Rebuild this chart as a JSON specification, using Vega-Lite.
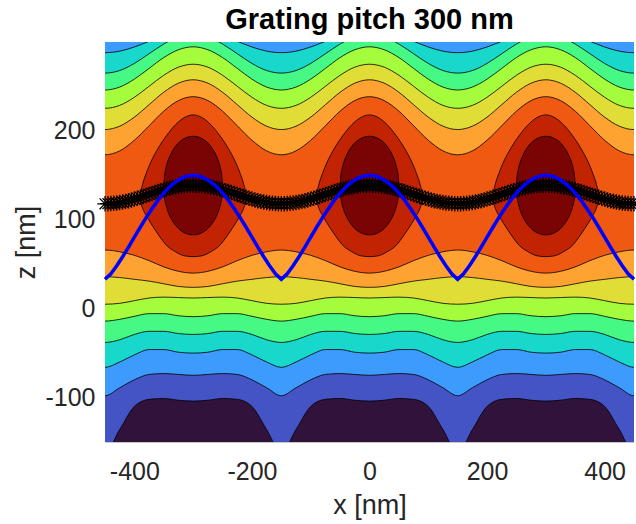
{
"$schema":"https://vega.github.io/schema/vega-lite/v6.json",
"width":529,"height":400,
"autosize":{"type":"none"},
"padding":{"left":105,"top":42,"right":2,"bottom":82},
"background":"white",
"config":{"view":{"fill":"#30123b","stroke":null},"axis":{"grid":false}},
"title":{"text":"Grating pitch 300 nm","fontSize":29,"fontWeight":"bold","font":"Liberation Sans","color":"black","anchor":"middle","offset":7},
"datasets":{
"bands":[
{"k":1,"g":1,"x":-475,"a":-136,"b":320},{"k":1,"g":1,"x":-450,"a":-162,"b":320},{"k":1,"g":1,"x":-425,"a":-136,"b":320},{"k":1,"g":1,"x":-400,"a":-110,"b":320},{"k":1,"g":1,"x":-375,"a":-102,"b":320},{"k":1,"g":1,"x":-350,"a":-101,"b":320},{"k":1,"g":1,"x":-325,"a":-103,"b":320},{"k":1,"g":1,"x":-300,"a":-104,"b":320},{"k":1,"g":1,"x":-275,"a":-103,"b":320},{"k":1,"g":1,"x":-250,"a":-101,"b":320},{"k":1,"g":1,"x":-225,"a":-102,"b":320},{"k":1,"g":1,"x":-200,"a":-110,"b":320},{"k":1,"g":1,"x":-175,"a":-136,"b":320},{"k":1,"g":1,"x":-150,"a":-162,"b":320},{"k":1,"g":1,"x":-125,"a":-136,"b":320},{"k":1,"g":1,"x":-100,"a":-110,"b":320},{"k":1,"g":1,"x":-75,"a":-102,"b":320},{"k":1,"g":1,"x":-50,"a":-101,"b":320},{"k":1,"g":1,"x":-25,"a":-103,"b":320},{"k":1,"g":1,"x":0,"a":-104,"b":320},{"k":1,"g":1,"x":25,"a":-103,"b":320},{"k":1,"g":1,"x":50,"a":-101,"b":320},{"k":1,"g":1,"x":75,"a":-102,"b":320},{"k":1,"g":1,"x":100,"a":-110,"b":320},{"k":1,"g":1,"x":125,"a":-136,"b":320},{"k":1,"g":1,"x":150,"a":-162,"b":320},{"k":1,"g":1,"x":175,"a":-136,"b":320},{"k":1,"g":1,"x":200,"a":-110,"b":320},{"k":1,"g":1,"x":225,"a":-102,"b":320},{"k":1,"g":1,"x":250,"a":-101,"b":320},{"k":1,"g":1,"x":275,"a":-103,"b":320},{"k":1,"g":1,"x":300,"a":-104,"b":320},{"k":1,"g":1,"x":325,"a":-103,"b":320},{"k":1,"g":1,"x":350,"a":-101,"b":320},{"k":1,"g":1,"x":375,"a":-102,"b":320},{"k":1,"g":1,"x":400,"a":-110,"b":320},{"k":1,"g":1,"x":425,"a":-136,"b":320},{"k":1,"g":1,"x":450,"a":-162,"b":320},{"k":1,"g":1,"x":475,"a":-136,"b":320},
{"k":2,"g":2,"x":-475,"a":-89,"b":320},{"k":2,"g":2,"x":-450,"a":-98,"b":320},{"k":2,"g":2,"x":-425,"a":-89,"b":320},{"k":2,"g":2,"x":-400,"a":-80,"b":320},{"k":2,"g":2,"x":-375,"a":-74,"b":320},{"k":2,"g":2,"x":-350,"a":-73,"b":320},{"k":2,"g":2,"x":-325,"a":-74,"b":320},{"k":2,"g":2,"x":-300,"a":-75,"b":320},{"k":2,"g":2,"x":-275,"a":-74,"b":320},{"k":2,"g":2,"x":-250,"a":-73,"b":320},{"k":2,"g":2,"x":-225,"a":-74,"b":320},{"k":2,"g":2,"x":-200,"a":-80,"b":320},{"k":2,"g":2,"x":-175,"a":-89,"b":320},{"k":2,"g":2,"x":-150,"a":-98,"b":320},{"k":2,"g":2,"x":-125,"a":-89,"b":320},{"k":2,"g":2,"x":-100,"a":-80,"b":320},{"k":2,"g":2,"x":-75,"a":-74,"b":320},{"k":2,"g":2,"x":-50,"a":-73,"b":320},{"k":2,"g":2,"x":-25,"a":-74,"b":320},{"k":2,"g":2,"x":0,"a":-75,"b":320},{"k":2,"g":2,"x":25,"a":-74,"b":320},{"k":2,"g":2,"x":50,"a":-73,"b":320},{"k":2,"g":2,"x":75,"a":-74,"b":320},{"k":2,"g":2,"x":100,"a":-80,"b":320},{"k":2,"g":2,"x":125,"a":-89,"b":320},{"k":2,"g":2,"x":150,"a":-98,"b":320},{"k":2,"g":2,"x":175,"a":-89,"b":320},{"k":2,"g":2,"x":200,"a":-80,"b":320},{"k":2,"g":2,"x":225,"a":-74,"b":320},{"k":2,"g":2,"x":250,"a":-73,"b":320},{"k":2,"g":2,"x":275,"a":-74,"b":320},{"k":2,"g":2,"x":300,"a":-75,"b":320},{"k":2,"g":2,"x":325,"a":-74,"b":320},{"k":2,"g":2,"x":350,"a":-73,"b":320},{"k":2,"g":2,"x":375,"a":-74,"b":320},{"k":2,"g":2,"x":400,"a":-80,"b":320},{"k":2,"g":2,"x":425,"a":-89,"b":320},{"k":2,"g":2,"x":450,"a":-98,"b":320},{"k":2,"g":2,"x":475,"a":-89,"b":320},
{"k":3,"g":3,"x":-475,"a":-60,"b":289.7},{"k":3,"g":3,"x":-450,"a":-66,"b":288},{"k":3,"g":3,"x":-425,"a":-60,"b":289.7},{"k":3,"g":3,"x":-400,"a":-52,"b":294.4},{"k":3,"g":3,"x":-375,"a":-46,"b":300.8},{"k":3,"g":3,"x":-350,"a":-46,"b":307.2},{"k":3,"g":3,"x":-325,"a":-49,"b":311.9},{"k":3,"g":3,"x":-300,"a":-50,"b":313.6},{"k":3,"g":3,"x":-275,"a":-49,"b":311.9},{"k":3,"g":3,"x":-250,"a":-46,"b":307.2},{"k":3,"g":3,"x":-225,"a":-46,"b":300.8},{"k":3,"g":3,"x":-200,"a":-52,"b":294.4},{"k":3,"g":3,"x":-175,"a":-60,"b":289.7},{"k":3,"g":3,"x":-150,"a":-66,"b":288},{"k":3,"g":3,"x":-125,"a":-60,"b":289.7},{"k":3,"g":3,"x":-100,"a":-52,"b":294.4},{"k":3,"g":3,"x":-75,"a":-46,"b":300.8},{"k":3,"g":3,"x":-50,"a":-46,"b":307.2},{"k":3,"g":3,"x":-25,"a":-49,"b":311.9},{"k":3,"g":3,"x":0,"a":-50,"b":313.6},{"k":3,"g":3,"x":25,"a":-49,"b":311.9},{"k":3,"g":3,"x":50,"a":-46,"b":307.2},{"k":3,"g":3,"x":75,"a":-46,"b":300.8},{"k":3,"g":3,"x":100,"a":-52,"b":294.4},{"k":3,"g":3,"x":125,"a":-60,"b":289.7},{"k":3,"g":3,"x":150,"a":-66,"b":288},{"k":3,"g":3,"x":175,"a":-60,"b":289.7},{"k":3,"g":3,"x":200,"a":-52,"b":294.4},{"k":3,"g":3,"x":225,"a":-46,"b":300.8},{"k":3,"g":3,"x":250,"a":-46,"b":307.2},{"k":3,"g":3,"x":275,"a":-49,"b":311.9},{"k":3,"g":3,"x":300,"a":-50,"b":313.6},{"k":3,"g":3,"x":325,"a":-49,"b":311.9},{"k":3,"g":3,"x":350,"a":-46,"b":307.2},{"k":3,"g":3,"x":375,"a":-46,"b":300.8},{"k":3,"g":3,"x":400,"a":-52,"b":294.4},{"k":3,"g":3,"x":425,"a":-60,"b":289.7},{"k":3,"g":3,"x":450,"a":-66,"b":288},{"k":3,"g":3,"x":475,"a":-60,"b":289.7},
{"k":4,"g":4,"x":-475,"a":-35,"b":267.9},{"k":4,"g":4,"x":-450,"a":-38,"b":265},{"k":4,"g":4,"x":-425,"a":-35,"b":267.9},{"k":4,"g":4,"x":-400,"a":-29,"b":275.9},{"k":4,"g":4,"x":-375,"a":-25.5,"b":286.8},{"k":4,"g":4,"x":-350,"a":-25.5,"b":297.7},{"k":4,"g":4,"x":-325,"a":-28,"b":305.7},{"k":4,"g":4,"x":-300,"a":-29,"b":308.6},{"k":4,"g":4,"x":-275,"a":-28,"b":305.7},{"k":4,"g":4,"x":-250,"a":-25.5,"b":297.7},{"k":4,"g":4,"x":-225,"a":-25.5,"b":286.8},{"k":4,"g":4,"x":-200,"a":-29,"b":275.9},{"k":4,"g":4,"x":-175,"a":-35,"b":267.9},{"k":4,"g":4,"x":-150,"a":-38,"b":265},{"k":4,"g":4,"x":-125,"a":-35,"b":267.9},{"k":4,"g":4,"x":-100,"a":-29,"b":275.9},{"k":4,"g":4,"x":-75,"a":-25.5,"b":286.8},{"k":4,"g":4,"x":-50,"a":-25.5,"b":297.7},{"k":4,"g":4,"x":-25,"a":-28,"b":305.7},{"k":4,"g":4,"x":0,"a":-29,"b":308.6},{"k":4,"g":4,"x":25,"a":-28,"b":305.7},{"k":4,"g":4,"x":50,"a":-25.5,"b":297.7},{"k":4,"g":4,"x":75,"a":-25.5,"b":286.8},{"k":4,"g":4,"x":100,"a":-29,"b":275.9},{"k":4,"g":4,"x":125,"a":-35,"b":267.9},{"k":4,"g":4,"x":150,"a":-38,"b":265},{"k":4,"g":4,"x":175,"a":-35,"b":267.9},{"k":4,"g":4,"x":200,"a":-29,"b":275.9},{"k":4,"g":4,"x":225,"a":-25.5,"b":286.8},{"k":4,"g":4,"x":250,"a":-25.5,"b":297.7},{"k":4,"g":4,"x":275,"a":-28,"b":305.7},{"k":4,"g":4,"x":300,"a":-29,"b":308.6},{"k":4,"g":4,"x":325,"a":-28,"b":305.7},{"k":4,"g":4,"x":350,"a":-25.5,"b":297.7},{"k":4,"g":4,"x":375,"a":-25.5,"b":286.8},{"k":4,"g":4,"x":400,"a":-29,"b":275.9},{"k":4,"g":4,"x":425,"a":-35,"b":267.9},{"k":4,"g":4,"x":450,"a":-38,"b":265},{"k":4,"g":4,"x":475,"a":-35,"b":267.9},
{"k":5,"g":5,"x":-475,"a":-12,"b":249.3},{"k":5,"g":5,"x":-450,"a":-14,"b":246},{"k":5,"g":5,"x":-425,"a":-12,"b":249.3},{"k":5,"g":5,"x":-400,"a":-8.6,"b":258.2},{"k":5,"g":5,"x":-375,"a":-5.6,"b":270.3},{"k":5,"g":5,"x":-350,"a":-5.6,"b":282.5},{"k":5,"g":5,"x":-325,"a":-8,"b":291.3},{"k":5,"g":5,"x":-300,"a":-9,"b":294.6},{"k":5,"g":5,"x":-275,"a":-8,"b":291.3},{"k":5,"g":5,"x":-250,"a":-5.6,"b":282.5},{"k":5,"g":5,"x":-225,"a":-5.6,"b":270.3},{"k":5,"g":5,"x":-200,"a":-8.6,"b":258.2},{"k":5,"g":5,"x":-175,"a":-12,"b":249.3},{"k":5,"g":5,"x":-150,"a":-14,"b":246},{"k":5,"g":5,"x":-125,"a":-12,"b":249.3},{"k":5,"g":5,"x":-100,"a":-8.6,"b":258.2},{"k":5,"g":5,"x":-75,"a":-5.6,"b":270.3},{"k":5,"g":5,"x":-50,"a":-5.6,"b":282.5},{"k":5,"g":5,"x":-25,"a":-8,"b":291.3},{"k":5,"g":5,"x":0,"a":-9,"b":294.6},{"k":5,"g":5,"x":25,"a":-8,"b":291.3},{"k":5,"g":5,"x":50,"a":-5.6,"b":282.5},{"k":5,"g":5,"x":75,"a":-5.6,"b":270.3},{"k":5,"g":5,"x":100,"a":-8.6,"b":258.2},{"k":5,"g":5,"x":125,"a":-12,"b":249.3},{"k":5,"g":5,"x":150,"a":-14,"b":246},{"k":5,"g":5,"x":175,"a":-12,"b":249.3},{"k":5,"g":5,"x":200,"a":-8.6,"b":258.2},{"k":5,"g":5,"x":225,"a":-5.6,"b":270.3},{"k":5,"g":5,"x":250,"a":-5.6,"b":282.5},{"k":5,"g":5,"x":275,"a":-8,"b":291.3},{"k":5,"g":5,"x":300,"a":-9,"b":294.6},{"k":5,"g":5,"x":325,"a":-8,"b":291.3},{"k":5,"g":5,"x":350,"a":-5.6,"b":282.5},{"k":5,"g":5,"x":375,"a":-5.6,"b":270.3},{"k":5,"g":5,"x":400,"a":-8.6,"b":258.2},{"k":5,"g":5,"x":425,"a":-12,"b":249.3},{"k":5,"g":5,"x":450,"a":-14,"b":246},{"k":5,"g":5,"x":475,"a":-12,"b":249.3},
{"k":6,"g":6,"x":-475,"a":6,"b":228.7},{"k":6,"g":6,"x":-450,"a":5,"b":225.4},{"k":6,"g":6,"x":-425,"a":6,"b":228.7},{"k":6,"g":6,"x":-400,"a":9,"b":237.8},{"k":6,"g":6,"x":-375,"a":12,"b":250.2},{"k":6,"g":6,"x":-350,"a":13,"b":262.6},{"k":6,"g":6,"x":-325,"a":12.5,"b":271.7},{"k":6,"g":6,"x":-300,"a":12,"b":275},{"k":6,"g":6,"x":-275,"a":12.5,"b":271.7},{"k":6,"g":6,"x":-250,"a":13,"b":262.6},{"k":6,"g":6,"x":-225,"a":12,"b":250.2},{"k":6,"g":6,"x":-200,"a":9,"b":237.8},{"k":6,"g":6,"x":-175,"a":6,"b":228.7},{"k":6,"g":6,"x":-150,"a":5,"b":225.4},{"k":6,"g":6,"x":-125,"a":6,"b":228.7},{"k":6,"g":6,"x":-100,"a":9,"b":237.8},{"k":6,"g":6,"x":-75,"a":12,"b":250.2},{"k":6,"g":6,"x":-50,"a":13,"b":262.6},{"k":6,"g":6,"x":-25,"a":12.5,"b":271.7},{"k":6,"g":6,"x":0,"a":12,"b":275},{"k":6,"g":6,"x":25,"a":12.5,"b":271.7},{"k":6,"g":6,"x":50,"a":13,"b":262.6},{"k":6,"g":6,"x":75,"a":12,"b":250.2},{"k":6,"g":6,"x":100,"a":9,"b":237.8},{"k":6,"g":6,"x":125,"a":6,"b":228.7},{"k":6,"g":6,"x":150,"a":5,"b":225.4},{"k":6,"g":6,"x":175,"a":6,"b":228.7},{"k":6,"g":6,"x":200,"a":9,"b":237.8},{"k":6,"g":6,"x":225,"a":12,"b":250.2},{"k":6,"g":6,"x":250,"a":13,"b":262.6},{"k":6,"g":6,"x":275,"a":12.5,"b":271.7},{"k":6,"g":6,"x":300,"a":12,"b":275},{"k":6,"g":6,"x":325,"a":12.5,"b":271.7},{"k":6,"g":6,"x":350,"a":13,"b":262.6},{"k":6,"g":6,"x":375,"a":12,"b":250.2},{"k":6,"g":6,"x":400,"a":9,"b":237.8},{"k":6,"g":6,"x":425,"a":6,"b":228.7},{"k":6,"g":6,"x":450,"a":5,"b":225.4},{"k":6,"g":6,"x":475,"a":6,"b":228.7},
{"k":7,"g":7,"x":-475,"a":35,"b":205.3},{"k":7,"g":7,"x":-450,"a":36,"b":201.5},{"k":7,"g":7,"x":-425,"a":35,"b":205.3},{"k":7,"g":7,"x":-400,"a":33,"b":215.5},{"k":7,"g":7,"x":-375,"a":31,"b":229.5},{"k":7,"g":7,"x":-350,"a":28,"b":243.5},{"k":7,"g":7,"x":-325,"a":25,"b":253.7},{"k":7,"g":7,"x":-300,"a":24,"b":257.5},{"k":7,"g":7,"x":-275,"a":25,"b":253.7},{"k":7,"g":7,"x":-250,"a":28,"b":243.5},{"k":7,"g":7,"x":-225,"a":31,"b":229.5},{"k":7,"g":7,"x":-200,"a":33,"b":215.5},{"k":7,"g":7,"x":-175,"a":35,"b":205.3},{"k":7,"g":7,"x":-150,"a":36,"b":201.5},{"k":7,"g":7,"x":-125,"a":35,"b":205.3},{"k":7,"g":7,"x":-100,"a":33,"b":215.5},{"k":7,"g":7,"x":-75,"a":31,"b":229.5},{"k":7,"g":7,"x":-50,"a":28,"b":243.5},{"k":7,"g":7,"x":-25,"a":25,"b":253.7},{"k":7,"g":7,"x":0,"a":24,"b":257.5},{"k":7,"g":7,"x":25,"a":25,"b":253.7},{"k":7,"g":7,"x":50,"a":28,"b":243.5},{"k":7,"g":7,"x":75,"a":31,"b":229.5},{"k":7,"g":7,"x":100,"a":33,"b":215.5},{"k":7,"g":7,"x":125,"a":35,"b":205.3},{"k":7,"g":7,"x":150,"a":36,"b":201.5},{"k":7,"g":7,"x":175,"a":35,"b":205.3},{"k":7,"g":7,"x":200,"a":33,"b":215.5},{"k":7,"g":7,"x":225,"a":31,"b":229.5},{"k":7,"g":7,"x":250,"a":28,"b":243.5},{"k":7,"g":7,"x":275,"a":25,"b":253.7},{"k":7,"g":7,"x":300,"a":24,"b":257.5},{"k":7,"g":7,"x":325,"a":25,"b":253.7},{"k":7,"g":7,"x":350,"a":28,"b":243.5},{"k":7,"g":7,"x":375,"a":31,"b":229.5},{"k":7,"g":7,"x":400,"a":33,"b":215.5},{"k":7,"g":7,"x":425,"a":35,"b":205.3},{"k":7,"g":7,"x":450,"a":36,"b":201.5},{"k":7,"g":7,"x":475,"a":35,"b":205.3},
{"k":8,"g":8,"x":-475,"a":64,"b":177.5},{"k":8,"g":8,"x":-450,"a":66,"b":173.1},{"k":8,"g":8,"x":-425,"a":64,"b":177.5},{"k":8,"g":8,"x":-400,"a":60,"b":189.5},{"k":8,"g":8,"x":-375,"a":54,"b":205.8},{"k":8,"g":8,"x":-350,"a":47,"b":222.2},{"k":8,"g":8,"x":-325,"a":42,"b":234.1},{"k":8,"g":8,"x":-300,"a":40,"b":238.5},{"k":8,"g":8,"x":-275,"a":42,"b":234.1},{"k":8,"g":8,"x":-250,"a":47,"b":222.2},{"k":8,"g":8,"x":-225,"a":54,"b":205.8},{"k":8,"g":8,"x":-200,"a":60,"b":189.5},{"k":8,"g":8,"x":-175,"a":64,"b":177.5},{"k":8,"g":8,"x":-150,"a":66,"b":173.1},{"k":8,"g":8,"x":-125,"a":64,"b":177.5},{"k":8,"g":8,"x":-100,"a":60,"b":189.5},{"k":8,"g":8,"x":-75,"a":54,"b":205.8},{"k":8,"g":8,"x":-50,"a":47,"b":222.2},{"k":8,"g":8,"x":-25,"a":42,"b":234.1},{"k":8,"g":8,"x":0,"a":40,"b":238.5},{"k":8,"g":8,"x":25,"a":42,"b":234.1},{"k":8,"g":8,"x":50,"a":47,"b":222.2},{"k":8,"g":8,"x":75,"a":54,"b":205.8},{"k":8,"g":8,"x":100,"a":60,"b":189.5},{"k":8,"g":8,"x":125,"a":64,"b":177.5},{"k":8,"g":8,"x":150,"a":66,"b":173.1},{"k":8,"g":8,"x":175,"a":64,"b":177.5},{"k":8,"g":8,"x":200,"a":60,"b":189.5},{"k":8,"g":8,"x":225,"a":54,"b":205.8},{"k":8,"g":8,"x":250,"a":47,"b":222.2},{"k":8,"g":8,"x":275,"a":42,"b":234.1},{"k":8,"g":8,"x":300,"a":40,"b":238.5},{"k":8,"g":8,"x":325,"a":42,"b":234.1},{"k":8,"g":8,"x":350,"a":47,"b":222.2},{"k":8,"g":8,"x":375,"a":54,"b":205.8},{"k":8,"g":8,"x":400,"a":60,"b":189.5},{"k":8,"g":8,"x":425,"a":64,"b":177.5},{"k":8,"g":8,"x":450,"a":66,"b":173.1},{"k":8,"g":8,"x":475,"a":64,"b":177.5},
{"k":9,"g":9,"x":-390,"a":125,"b":125},{"k":9,"g":9,"x":-389,"a":120,"b":131},{"k":9,"g":9,"x":-386,"a":113,"b":140},{"k":9,"g":9,"x":-380,"a":105,"b":152},{"k":9,"g":9,"x":-372,"a":96,"b":165},{"k":9,"g":9,"x":-360,"a":84,"b":180},{"k":9,"g":9,"x":-345,"a":71,"b":195},{"k":9,"g":9,"x":-330,"a":64,"b":207},{"k":9,"g":9,"x":-315,"a":59.5,"b":215},{"k":9,"g":9,"x":-300,"a":58.5,"b":218},{"k":9,"g":9,"x":-285,"a":59.5,"b":215},{"k":9,"g":9,"x":-270,"a":64,"b":207},{"k":9,"g":9,"x":-255,"a":71,"b":195},{"k":9,"g":9,"x":-240,"a":84,"b":180},{"k":9,"g":9,"x":-228,"a":96,"b":165},{"k":9,"g":9,"x":-220,"a":105,"b":152},{"k":9,"g":9,"x":-214,"a":113,"b":140},{"k":9,"g":9,"x":-211,"a":120,"b":131},{"k":9,"g":9,"x":-210,"a":125,"b":125},
{"k":9,"g":10,"x":-90,"a":125,"b":125},{"k":9,"g":10,"x":-89,"a":120,"b":131},{"k":9,"g":10,"x":-86,"a":113,"b":140},{"k":9,"g":10,"x":-80,"a":105,"b":152},{"k":9,"g":10,"x":-72,"a":96,"b":165},{"k":9,"g":10,"x":-60,"a":84,"b":180},{"k":9,"g":10,"x":-45,"a":71,"b":195},{"k":9,"g":10,"x":-30,"a":64,"b":207},{"k":9,"g":10,"x":-15,"a":59.5,"b":215},{"k":9,"g":10,"x":0,"a":58.5,"b":218},{"k":9,"g":10,"x":15,"a":59.5,"b":215},{"k":9,"g":10,"x":30,"a":64,"b":207},{"k":9,"g":10,"x":45,"a":71,"b":195},{"k":9,"g":10,"x":60,"a":84,"b":180},{"k":9,"g":10,"x":72,"a":96,"b":165},{"k":9,"g":10,"x":80,"a":105,"b":152},{"k":9,"g":10,"x":86,"a":113,"b":140},{"k":9,"g":10,"x":89,"a":120,"b":131},{"k":9,"g":10,"x":90,"a":125,"b":125},
{"k":9,"g":11,"x":210,"a":125,"b":125},{"k":9,"g":11,"x":211,"a":120,"b":131},{"k":9,"g":11,"x":214,"a":113,"b":140},{"k":9,"g":11,"x":220,"a":105,"b":152},{"k":9,"g":11,"x":228,"a":96,"b":165},{"k":9,"g":11,"x":240,"a":84,"b":180},{"k":9,"g":11,"x":255,"a":71,"b":195},{"k":9,"g":11,"x":270,"a":64,"b":207},{"k":9,"g":11,"x":285,"a":59.5,"b":215},{"k":9,"g":11,"x":300,"a":58.5,"b":218},{"k":9,"g":11,"x":315,"a":59.5,"b":215},{"k":9,"g":11,"x":330,"a":64,"b":207},{"k":9,"g":11,"x":345,"a":71,"b":195},{"k":9,"g":11,"x":360,"a":84,"b":180},{"k":9,"g":11,"x":372,"a":96,"b":165},{"k":9,"g":11,"x":380,"a":105,"b":152},{"k":9,"g":11,"x":386,"a":113,"b":140},{"k":9,"g":11,"x":389,"a":120,"b":131},{"k":9,"g":11,"x":390,"a":125,"b":125},
{"k":10,"g":12,"x":-350,"a":137,"b":137},{"k":10,"g":12,"x":-349,"a":126.3,"b":148.3},{"k":10,"g":12,"x":-347,"a":118.6,"b":156.5},{"k":10,"g":12,"x":-344,"a":111.3,"b":164.1},{"k":10,"g":12,"x":-338,"a":101.9,"b":174},{"k":10,"g":12,"x":-330,"a":93.8,"b":182.6},{"k":10,"g":12,"x":-315,"a":85.4,"b":191.4},{"k":10,"g":12,"x":-300,"a":83,"b":194},{"k":10,"g":12,"x":-285,"a":85.4,"b":191.4},{"k":10,"g":12,"x":-270,"a":93.8,"b":182.6},{"k":10,"g":12,"x":-262,"a":101.9,"b":174},{"k":10,"g":12,"x":-256,"a":111.3,"b":164.1},{"k":10,"g":12,"x":-253,"a":118.6,"b":156.5},{"k":10,"g":12,"x":-251,"a":126.3,"b":148.3},{"k":10,"g":12,"x":-250,"a":137,"b":137},
{"k":10,"g":13,"x":-50,"a":137,"b":137},{"k":10,"g":13,"x":-49,"a":126.3,"b":148.3},{"k":10,"g":13,"x":-47,"a":118.6,"b":156.5},{"k":10,"g":13,"x":-44,"a":111.3,"b":164.1},{"k":10,"g":13,"x":-38,"a":101.9,"b":174},{"k":10,"g":13,"x":-30,"a":93.8,"b":182.6},{"k":10,"g":13,"x":-15,"a":85.4,"b":191.4},{"k":10,"g":13,"x":0,"a":83,"b":194},{"k":10,"g":13,"x":15,"a":85.4,"b":191.4},{"k":10,"g":13,"x":30,"a":93.8,"b":182.6},{"k":10,"g":13,"x":38,"a":101.9,"b":174},{"k":10,"g":13,"x":44,"a":111.3,"b":164.1},{"k":10,"g":13,"x":47,"a":118.6,"b":156.5},{"k":10,"g":13,"x":49,"a":126.3,"b":148.3},{"k":10,"g":13,"x":50,"a":137,"b":137},
{"k":10,"g":14,"x":250,"a":137,"b":137},{"k":10,"g":14,"x":251,"a":126.3,"b":148.3},{"k":10,"g":14,"x":253,"a":118.6,"b":156.5},{"k":10,"g":14,"x":256,"a":111.3,"b":164.1},{"k":10,"g":14,"x":262,"a":101.9,"b":174},{"k":10,"g":14,"x":270,"a":93.8,"b":182.6},{"k":10,"g":14,"x":285,"a":85.4,"b":191.4},{"k":10,"g":14,"x":300,"a":83,"b":194},{"k":10,"g":14,"x":315,"a":85.4,"b":191.4},{"k":10,"g":14,"x":330,"a":93.8,"b":182.6},{"k":10,"g":14,"x":338,"a":101.9,"b":174},{"k":10,"g":14,"x":344,"a":111.3,"b":164.1},{"k":10,"g":14,"x":347,"a":118.6,"b":156.5},{"k":10,"g":14,"x":349,"a":126.3,"b":148.3},{"k":10,"g":14,"x":350,"a":137,"b":137}
],
"stars":[
{"x":-450,"z":118.0},{"x":-445,"z":118.1},{"x":-440,"z":118.2},{"x":-435,"z":118.5},{"x":-430,"z":118.9},{"x":-425,"z":119.4},{"x":-420,"z":120.0},{"x":-415,"z":120.7},{"x":-410,"z":121.5},{"x":-405,"z":122.3},{"x":-400,"z":123.3},{"x":-395,"z":124.2},{"x":-390,"z":125.3},{"x":-385,"z":126.3},{"x":-380,"z":127.4},{"x":-375,"z":128.5},{"x":-370,"z":129.6},{"x":-365,"z":130.7},{"x":-360,"z":131.7},{"x":-355,"z":132.8},{"x":-350,"z":133.8},{"x":-345,"z":134.7},{"x":-340,"z":135.5},{"x":-335,"z":136.3},{"x":-330,"z":137.0},{"x":-325,"z":137.6},{"x":-320,"z":138.1},{"x":-315,"z":138.5},{"x":-310,"z":138.8},{"x":-305,"z":138.9},{"x":-300,"z":139.0},
{"x":-295,"z":138.9},{"x":-290,"z":138.8},{"x":-285,"z":138.5},{"x":-280,"z":138.1},{"x":-275,"z":137.6},{"x":-270,"z":137.0},{"x":-265,"z":136.3},{"x":-260,"z":135.5},{"x":-255,"z":134.7},{"x":-250,"z":133.8},{"x":-245,"z":132.8},{"x":-240,"z":131.7},{"x":-235,"z":130.7},{"x":-230,"z":129.6},{"x":-225,"z":128.5},{"x":-220,"z":127.4},{"x":-215,"z":126.3},{"x":-210,"z":125.3},{"x":-205,"z":124.2},{"x":-200,"z":123.3},{"x":-195,"z":122.3},{"x":-190,"z":121.5},{"x":-185,"z":120.7},{"x":-180,"z":120.0},{"x":-175,"z":119.4},{"x":-170,"z":118.9},{"x":-165,"z":118.5},{"x":-160,"z":118.2},{"x":-155,"z":118.1},{"x":-150,"z":118.0},
{"x":-145,"z":118.1},{"x":-140,"z":118.2},{"x":-135,"z":118.5},{"x":-130,"z":118.9},{"x":-125,"z":119.4},{"x":-120,"z":120.0},{"x":-115,"z":120.7},{"x":-110,"z":121.5},{"x":-105,"z":122.3},{"x":-100,"z":123.3},{"x":-95,"z":124.2},{"x":-90,"z":125.3},{"x":-85,"z":126.3},{"x":-80,"z":127.4},{"x":-75,"z":128.5},{"x":-70,"z":129.6},{"x":-65,"z":130.7},{"x":-60,"z":131.7},{"x":-55,"z":132.8},{"x":-50,"z":133.8},{"x":-45,"z":134.7},{"x":-40,"z":135.5},{"x":-35,"z":136.3},{"x":-30,"z":137.0},{"x":-25,"z":137.6},{"x":-20,"z":138.1},{"x":-15,"z":138.5},{"x":-10,"z":138.8},{"x":-5,"z":138.9},{"x":0,"z":139.0},
{"x":5,"z":138.9},{"x":10,"z":138.8},{"x":15,"z":138.5},{"x":20,"z":138.1},{"x":25,"z":137.6},{"x":30,"z":137.0},{"x":35,"z":136.3},{"x":40,"z":135.5},{"x":45,"z":134.7},{"x":50,"z":133.8},{"x":55,"z":132.8},{"x":60,"z":131.7},{"x":65,"z":130.7},{"x":70,"z":129.6},{"x":75,"z":128.5},{"x":80,"z":127.4},{"x":85,"z":126.3},{"x":90,"z":125.3},{"x":95,"z":124.2},{"x":100,"z":123.3},{"x":105,"z":122.3},{"x":110,"z":121.5},{"x":115,"z":120.7},{"x":120,"z":120.0},{"x":125,"z":119.4},{"x":130,"z":118.9},{"x":135,"z":118.5},{"x":140,"z":118.2},{"x":145,"z":118.1},{"x":150,"z":118.0},
{"x":155,"z":118.1},{"x":160,"z":118.2},{"x":165,"z":118.5},{"x":170,"z":118.9},{"x":175,"z":119.4},{"x":180,"z":120.0},{"x":185,"z":120.7},{"x":190,"z":121.5},{"x":195,"z":122.3},{"x":200,"z":123.3},{"x":205,"z":124.2},{"x":210,"z":125.3},{"x":215,"z":126.3},{"x":220,"z":127.4},{"x":225,"z":128.5},{"x":230,"z":129.6},{"x":235,"z":130.7},{"x":240,"z":131.7},{"x":245,"z":132.8},{"x":250,"z":133.8},{"x":255,"z":134.7},{"x":260,"z":135.5},{"x":265,"z":136.3},{"x":270,"z":137.0},{"x":275,"z":137.6},{"x":280,"z":138.1},{"x":285,"z":138.5},{"x":290,"z":138.8},{"x":295,"z":138.9},{"x":300,"z":139.0},
{"x":305,"z":138.9},{"x":310,"z":138.8},{"x":315,"z":138.5},{"x":320,"z":138.1},{"x":325,"z":137.6},{"x":330,"z":137.0},{"x":335,"z":136.3},{"x":340,"z":135.5},{"x":345,"z":134.7},{"x":350,"z":133.8},{"x":355,"z":132.8},{"x":360,"z":131.7},{"x":365,"z":130.7},{"x":370,"z":129.6},{"x":375,"z":128.5},{"x":380,"z":127.4},{"x":385,"z":126.3},{"x":390,"z":125.3},{"x":395,"z":124.2},{"x":400,"z":123.3},{"x":405,"z":122.3},{"x":410,"z":121.5},{"x":415,"z":120.7},{"x":420,"z":120.0},{"x":425,"z":119.4},{"x":430,"z":118.9},{"x":435,"z":118.5},{"x":440,"z":118.2},{"x":445,"z":118.1},{"x":450,"z":118.0}
],
"grating":[
{"x":-450,"z":33},{"x":-440,"z":39.2},{"x":-430,"z":48.2},{"x":-420,"z":58.4},{"x":-410,"z":69.3},{"x":-400,"z":80.5},{"x":-390,"z":91.6},{"x":-380,"z":102.4},{"x":-370,"z":112.5},{"x":-360,"z":121.8},{"x":-350,"z":130.0},{"x":-340,"z":137.0},{"x":-330,"z":142.6},{"x":-320,"z":146.7},{"x":-310,"z":149.2},{"x":-300,"z":150},
{"x":-290,"z":149.2},{"x":-280,"z":146.7},{"x":-270,"z":142.6},{"x":-260,"z":137.0},{"x":-250,"z":130.0},{"x":-240,"z":121.8},{"x":-230,"z":112.5},{"x":-220,"z":102.4},{"x":-210,"z":91.6},{"x":-200,"z":80.5},{"x":-190,"z":69.3},{"x":-180,"z":58.4},{"x":-170,"z":48.2},{"x":-160,"z":39.2},{"x":-150,"z":33},
{"x":-140,"z":39.2},{"x":-130,"z":48.2},{"x":-120,"z":58.4},{"x":-110,"z":69.3},{"x":-100,"z":80.5},{"x":-90,"z":91.6},{"x":-80,"z":102.4},{"x":-70,"z":112.5},{"x":-60,"z":121.8},{"x":-50,"z":130.0},{"x":-40,"z":137.0},{"x":-30,"z":142.6},{"x":-20,"z":146.7},{"x":-10,"z":149.2},{"x":0,"z":150},
{"x":10,"z":149.2},{"x":20,"z":146.7},{"x":30,"z":142.6},{"x":40,"z":137.0},{"x":50,"z":130.0},{"x":60,"z":121.8},{"x":70,"z":112.5},{"x":80,"z":102.4},{"x":90,"z":91.6},{"x":100,"z":80.5},{"x":110,"z":69.3},{"x":120,"z":58.4},{"x":130,"z":48.2},{"x":140,"z":39.2},{"x":150,"z":33},
{"x":160,"z":39.2},{"x":170,"z":48.2},{"x":180,"z":58.4},{"x":190,"z":69.3},{"x":200,"z":80.5},{"x":210,"z":91.6},{"x":220,"z":102.4},{"x":230,"z":112.5},{"x":240,"z":121.8},{"x":250,"z":130.0},{"x":260,"z":137.0},{"x":270,"z":142.6},{"x":280,"z":146.7},{"x":290,"z":149.2},{"x":300,"z":150},
{"x":310,"z":149.2},{"x":320,"z":146.7},{"x":330,"z":142.6},{"x":340,"z":137.0},{"x":350,"z":130.0},{"x":360,"z":121.8},{"x":370,"z":112.5},{"x":380,"z":102.4},{"x":390,"z":91.6},{"x":400,"z":80.5},{"x":410,"z":69.3},{"x":420,"z":58.4},{"x":430,"z":48.2},{"x":440,"z":39.2},{"x":450,"z":33}
]
},
"layer":[
{"data":{"name":"bands"},
 "mark":{"type":"area","interpolate":"monotone","stroke":"black","strokeWidth":0.8,"clip":true,"opacity":1},
 "encoding":{
  "x":{"field":"x","type":"quantitative","scale":{"domain":[-450,450],"nice":false,"zero":false},
       "axis":{"title":"x [nm]","values":[-400,-200,0,200,400],"labelExpr":"datum.value < 0 ? '-' + (-datum.value) : '' + datum.value","ticks":false,"labelFont":"Liberation Sans","labelFontSize":25,"labelColor":"#262626","labelPadding":17,"titleFont":"Liberation Sans","titleFontSize":27,"titleFontWeight":"normal","titleColor":"#262626","titlePadding":8,"domainColor":"#c8c8c8","domainWidth":1}},
  "y":{"field":"a","type":"quantitative","scale":{"domain":[-150,300],"nice":false,"zero":false},
       "axis":{"title":"z [nm]","values":[-100,0,100,200],"labelExpr":"datum.value < 0 ? '-' + (-datum.value) : '' + datum.value","ticks":false,"domain":false,"labelFont":"Liberation Sans","labelFontSize":25,"labelColor":"#262626","labelPadding":10,"titleFont":"Liberation Sans","titleFontSize":27,"titleFontWeight":"normal","titleColor":"#262626","titlePadding":4}},
  "y2":{"field":"b"},
  "color":{"field":"k","type":"ordinal","legend":null,"scale":{"domain":[1,2,3,4,5,6,7,8,9,10],"range":["#4454c4","#3e9bfe","#18d7cb","#46f884","#a4fc3c","#e1dd37","#fea331","#ef5911","#c22403","#7a0403"]}},
  "detail":{"field":"g","type":"nominal"}
 }},
{"data":{"name":"stars"},
 "mark":{"type":"point","shape":"M-1,0L1,0M0,-1L0,1M-0.7,-0.7L0.7,0.7M-0.7,0.7L0.7,-0.7","filled":false,"stroke":"black","strokeWidth":1.3,"size":240,"opacity":1},
 "encoding":{"x":{"field":"x","type":"quantitative"},"y":{"field":"z","type":"quantitative"}}},
{"data":{"name":"grating"},
 "mark":{"type":"line","color":"#0000ff","strokeWidth":3.5},
 "encoding":{"x":{"field":"x","type":"quantitative"},"y":{"field":"z","type":"quantitative"}}}
]
}
